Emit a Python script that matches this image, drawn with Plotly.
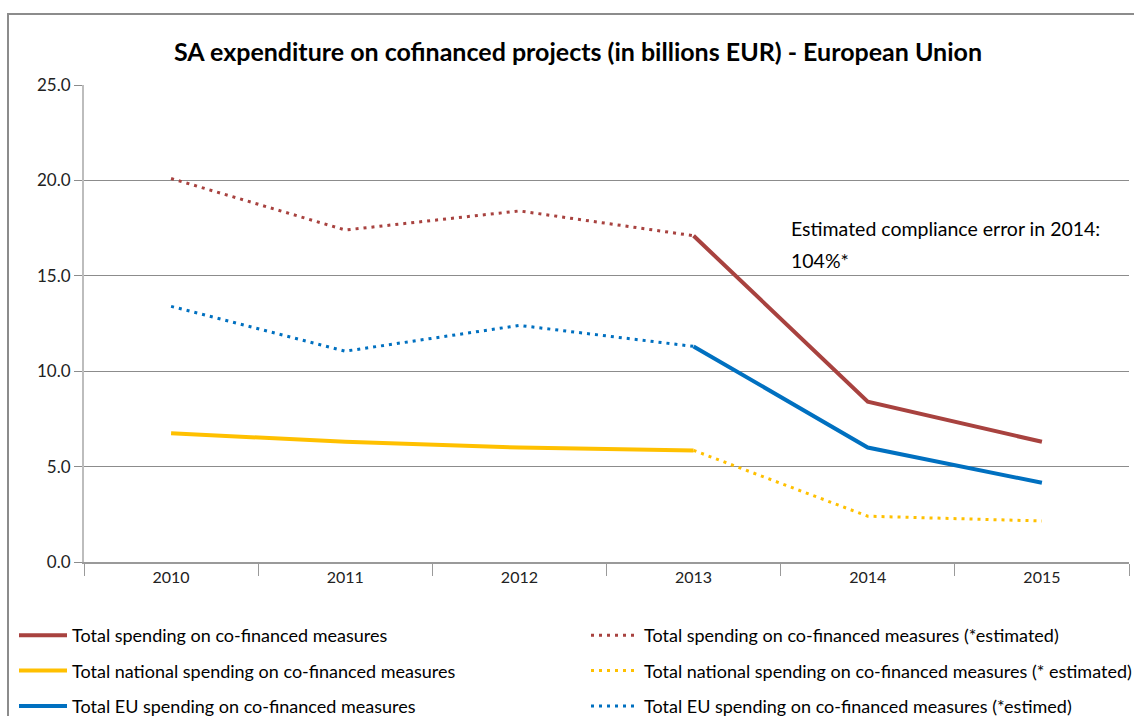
import plotly.graph_objects as go

years = ["2010", "2011", "2012", "2013", "2014", "2015"]
total = [20.1, 17.4, 18.4, 17.1, 8.4, 6.3]
national = [6.75, 6.3, 6.0, 5.85, 2.4, 2.15]
eu = [13.4, 11.05, 12.4, 11.3, 6.0, 4.15]

RED = "#A8423F"
YEL = "#FFC000"
BLU = "#0070C0"
FONT = "Lato"

SL, SR, ST, SB = 84, 1129, 85, 562  # target plot area on screen
PL, PR, PT, PB = SL, SR, ST, SB
PW, PH = PR - PL, PB - PT


def px(x):
    return (x - SL) / PW


def py(y):
    return (SB - y) / PH


fig = go.Figure()
DOT = "3px,5px"

fig.add_trace(go.Scatter(x=years[3:], y=total[3:], mode="lines", legend="legend",
                         legendgroup="a", line=dict(color=RED, width=4),
                         name="Total spending on co-financed measures"))
fig.add_trace(go.Scatter(x=years[:4], y=national[:4], mode="lines", legend="legend",
                         legendgroup="b", line=dict(color=YEL, width=4),
                         name="Total national spending on co-financed measures"))
fig.add_trace(go.Scatter(x=years[3:], y=eu[3:], mode="lines", legend="legend",
                         legendgroup="c", line=dict(color=BLU, width=4),
                         name="Total EU spending on co-financed measures"))
fig.add_trace(go.Scatter(x=years[:4], y=total[:4], mode="lines", legend="legend2",
                         legendgroup="d", line=dict(color=RED, width=3, dash=DOT),
                         name="Total spending on co-financed measures (*estimated)"))
fig.add_trace(go.Scatter(x=years[3:], y=national[3:], mode="lines", legend="legend2",
                         legendgroup="e", line=dict(color=YEL, width=3, dash=DOT),
                         name="Total national spending on co-financed measures (* estimated)"))
fig.add_trace(go.Scatter(x=years[:4], y=eu[:4], mode="lines", legend="legend2",
                         legendgroup="f", line=dict(color=BLU, width=3, dash=DOT),
                         name="Total EU spending on co-financed measures (*estimed)"))

fig.add_annotation(text="Estimated compliance error in 2014:",
                   xref="paper", yref="paper", x=px(789), y=py(228),
                   xanchor="left", yanchor="middle", align="left", showarrow=False,
                   font=dict(family=FONT, size=19.5, color="#000000"))
fig.add_annotation(text="104%*",
                   xref="paper", yref="paper", x=px(789), y=py(260),
                   xanchor="left", yanchor="middle", align="left", showarrow=False,
                   font=dict(family=FONT, size=19.5, color="#000000"))

fig.add_shape(type="rect", xref="paper", yref="paper",
              x0=px(8), x1=px(1160), y0=py(740), y1=py(14),
              line=dict(color="#8c8c8c", width=2), fillcolor="rgba(0,0,0,0)", layer="below")

leg_common = dict(orientation="v", xanchor="left", yanchor="top",
                  traceorder="grouped", font=dict(family=FONT, size=18, color="#000000"),
                  bgcolor="rgba(0,0,0,0)", tracegroupgap=9, itemwidth=48)

fig.update_layout(
    width=1134, height=716,
    margin=dict(l=PL, r=1134 - PR, t=PT, b=716 - PB, autoexpand=False),
    paper_bgcolor="white", plot_bgcolor="white",
    title=dict(text="<b>SA expenditure on cofinanced projects (in billions EUR) - European Union</b>",
               x=578 / 1134, xanchor="center", y=1 - 52 / 716, yanchor="middle",
               font=dict(family=FONT, size=25, color="#000000")),
    font=dict(family=FONT, size=16, color="#222222"),
    showlegend=True,
    legend=dict(x=px(14), y=py(617), **leg_common),
    legend2=dict(x=px(586), y=py(617), **leg_common),
    xaxis=dict(type="category", categoryorder="array", categoryarray=years,
               showgrid=False, showline=True, linecolor="#9a9a9a", linewidth=2,
               ticks="outside", tickson="boundaries", ticklen=12, tickcolor="#9a9a9a",
               tickfont=dict(family=FONT, size=16, color="#222222"), range=[-0.5, 5.5]),
    yaxis=dict(range=[0, 25], dtick=5, tickformat=".1f", showgrid=True, gridcolor="#8c8c8c",
               gridwidth=1, showline=True, linecolor="#bdbdbd", linewidth=2,
               ticks="outside", ticklen=8, tickcolor="#8c8c8c", zeroline=False,
               tickfont=dict(family=FONT, size=17, color="#222222")),
)

fig.write_html("out.html", config={"displayModeBar": False},
               post_script="document.body.style.margin='0';document.body.style.overflow='hidden';")
